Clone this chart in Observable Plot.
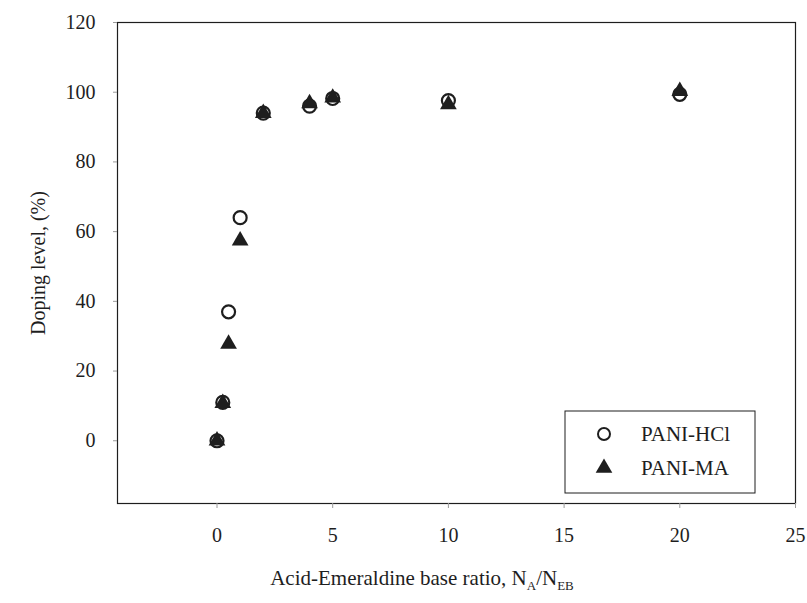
<!DOCTYPE html>
<html>
<head>
<meta charset="utf-8">
<script src="https://cdn.jsdelivr.net/npm/d3@7"></script>
<script src="https://cdn.jsdelivr.net/npm/@observablehq/plot@0.6"></script>
<style>
  html, body { margin: 0; padding: 0; background: #fff; }
  svg { display: block; }
</style>
</head>
<body>
<div id="chart"></div>
<script>
// Data
const ratio = [0, 0.25, 0.5, 1, 2, 4, 5, 10, 20];
const hcl   = [0, 11, 37, 64, 94, 96, 98.2, 97.6, 99.4];
const ma    = [0, 10.8, 27.8, 57.4, 94, 96.8, 98.4, 96.5, 100.3];
const seriesNames = ["PANI-HCl", "PANI-MA"];
const xTicks = [0, 5, 10, 15, 20, 25];
const yTicks = [0, 20, 40, 60, 80, 100, 120];

const ink = "#1e1e1e";
const font = "'Liberation Serif', 'Times New Roman', serif";

const hclData = ratio.map((r, i) => ({x: r, y: hcl[i]}));
const maData = ratio.map((r, i) => ({x: r, y: ma[i]}));

const plot = Plot.plot({
  width: 807,
  height: 603,
  marginLeft: 117,
  marginRight: 12,
  marginTop: 22,
  marginBottom: 100,
  style: {fontFamily: font, fontSize: "20px", color: ink, background: "#fff"},
  x: {domain: [-4.3, 25]},
  y: {domain: [-18, 120]},
  marks: [
    Plot.frame({stroke: ink, strokeWidth: 1.2}),
    Plot.axisX({ticks: xTicks, tickSize: 5, tickPadding: 19, stroke: "#999", label: null, fontSize: 20}),
    Plot.axisY({ticks: yTicks, tickSize: 4, tickPadding: 18, stroke: "#999", label: "Doping level, (%)", labelAnchor: "center", labelArrow: "none", labelOffset: 87, fontSize: 20}),
    Plot.dot(hclData, {x: "x", y: "y", r: 6.5, stroke: ink, strokeWidth: 2.2, fill: "none"}),
    Plot.dot(maData, {x: "x", y: "y", symbol: "triangle", r: 6.2, fill: ink, stroke: "none"})
  ]
});

document.getElementById("chart").appendChild(plot);

// X-axis title with subscripts
const svg = d3.select(plot);
const t = svg.append("text")
  .attr("x", 422)
  .attr("y", 585)
  .attr("text-anchor", "middle")
  .attr("font-family", font)
  .attr("font-size", 21)
  .attr("fill", ink);
t.append("tspan").text("Acid-Emeraldine base ratio, N");
t.append("tspan").attr("font-size", 13).attr("dy", 5).text("A");
t.append("tspan").attr("dy", -5).text("/N");
t.append("tspan").attr("font-size", 13).attr("dy", 5).text("EB");

// Legend
const lg = svg.append("g").attr("font-family", font).attr("font-size", 21)
  .attr("fill", ink).attr("text-anchor", "start");
lg.append("rect").attr("x", 565).attr("y", 411).attr("width", 190).attr("height", 82)
  .attr("fill", "#fff").attr("stroke", ink).attr("stroke-width", 1);
const symbols = [d3.symbolCircle, d3.symbolTriangle];
seriesNames.forEach((name, i) => {
  const cy = 434 + i * 34;
  if (i === 0) {
    lg.append("circle").attr("cx", 604).attr("cy", cy).attr("r", 6)
      .attr("fill", "none").attr("stroke", ink).attr("stroke-width", 2);
  } else {
    lg.append("path").attr("d", d3.symbol(symbols[i], 120)())
      .attr("transform", `translate(604,${cy})`).attr("fill", ink);
  }
  lg.append("text").attr("x", 641).attr("y", cy).attr("dy", "0.35em")
    .attr("text-anchor", "start").text(name);
});
</script>
</body>
</html>
